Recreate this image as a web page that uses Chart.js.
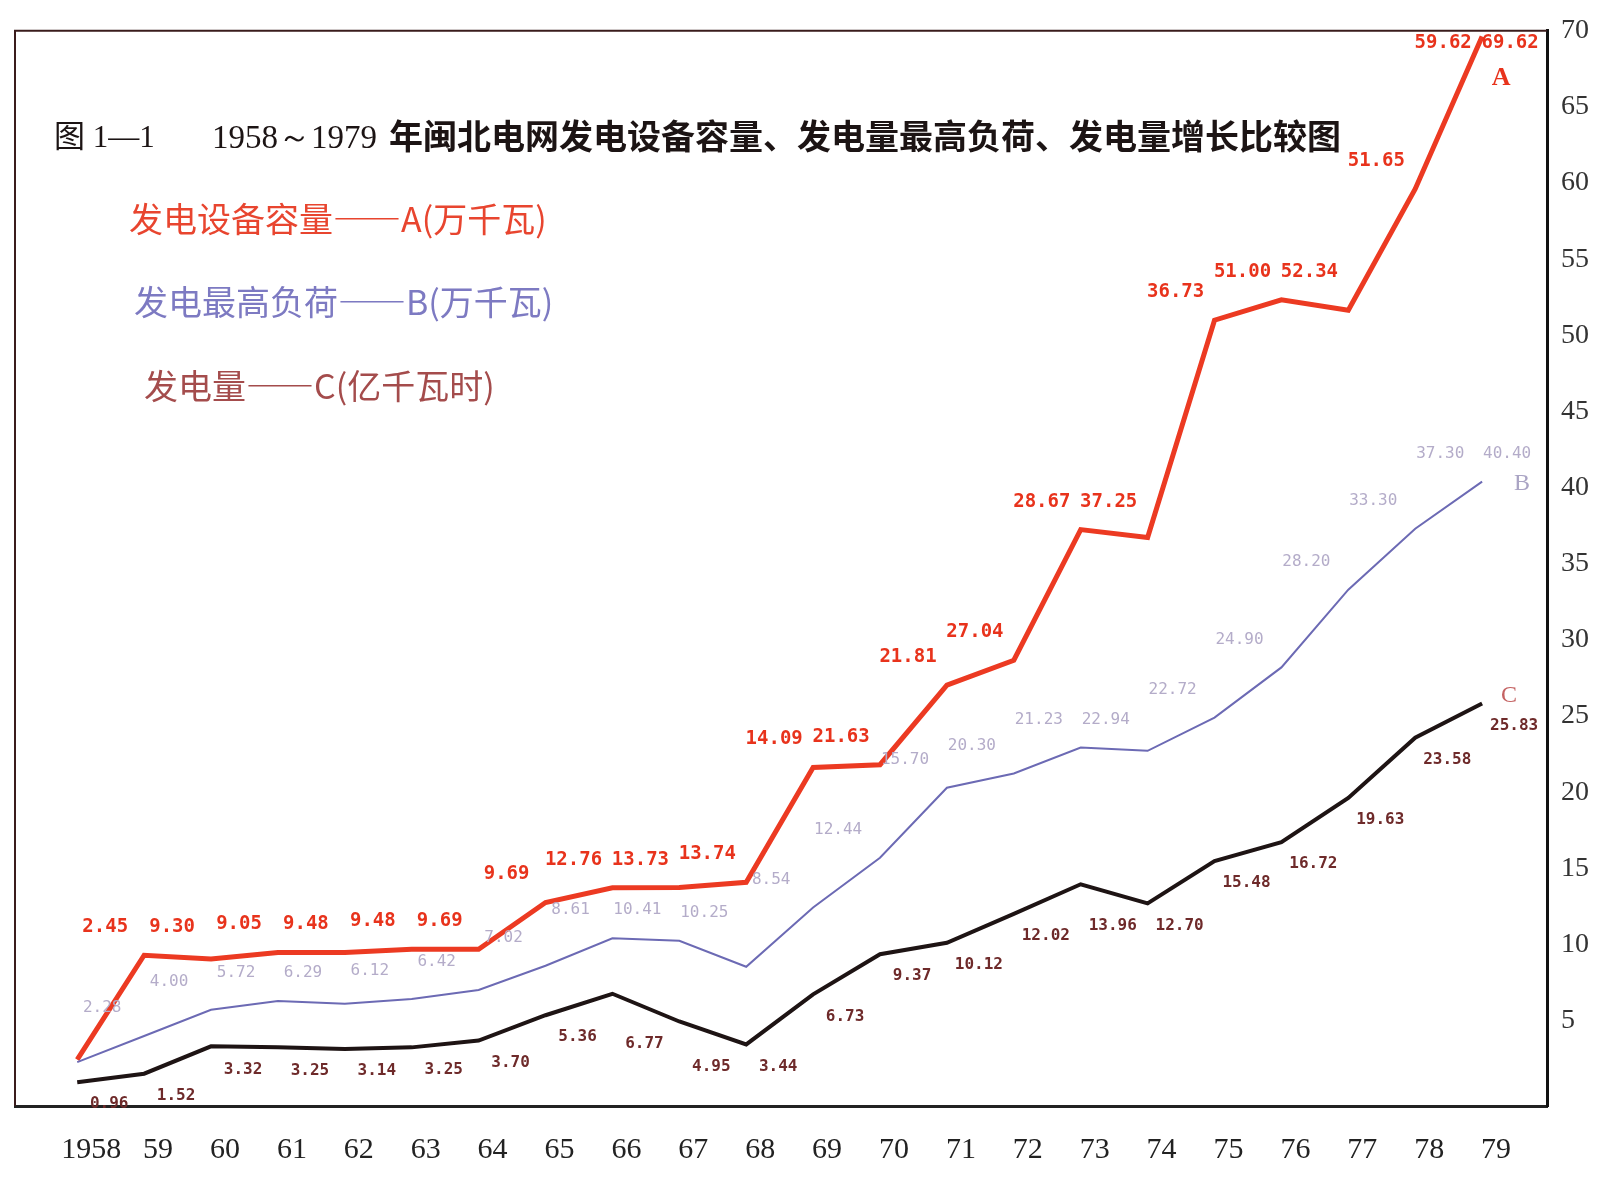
<!DOCTYPE html>
<html lang="zh">
<head>
<meta charset="utf-8">
<title>闽北电网发电设备容量、发电量最高负荷、发电量增长比较图</title>
<script src="https://cdn.jsdelivr.net/npm/chart.js@4.4.1/dist/chart.umd.min.js"></script>
<style>
  html, body { margin: 0; padding: 0; background: #fff; }
  #chart { display: block; }
</style>
</head>
<body>
<canvas id="chart" width="1614" height="1178"></canvas>
<script>
// data
const years = [1958, 1959, 1960, 1961, 1962, 1963, 1964, 1965, 1966, 1967, 1968,
  1969, 1970, 1971, 1972, 1973, 1974, 1975, 1976, 1977, 1978, 1979];
const xLabels = ['1958', '59', '60', '61', '62', '63', '64', '65', '66', '67', '68',
  '69', '70', '71', '72', '73', '74', '75', '76', '77', '78', '79'];
// A 发电设备容量 (万千瓦)
const capacityA = [2.45, 9.30, 9.05, 9.48, 9.48, 9.69, 9.69, 12.76, 13.73, 13.74, 14.09,
  21.63, 21.81, 27.04, 28.67, 37.25, 36.73, 51.00, 52.34, 51.65, 59.62, 69.62];
// B 发电最高负荷 (万千瓦)
const peakLoadB = [2.28, 4.00, 5.72, 6.29, 6.12, 6.42, 7.02, 8.61, 10.41, 10.25, 8.54,
  12.44, 15.70, 20.30, 21.23, 22.94, 22.72, 24.90, 28.20, 33.30, 37.30, 40.40];
// C 发电量 (亿千瓦时)
const outputC = [0.96, 1.52, 3.32, 3.25, 3.14, 3.25, 3.70, 5.36, 6.77, 4.95, 3.44,
  6.73, 9.37, 10.12, 12.02, 13.96, 12.70, 15.48, 16.72, 19.63, 23.58, 25.83];
const yTicks = [5, 10, 15, 20, 25, 30, 35, 40, 45, 50, 55, 60, 65, 70];

const titlePrefix = ['图 1—1', '1958～1979'];
const titleMain = '年闽北电网发电设备容量、发电量最高负荷、发电量增长比较图';
const legendRows = [
  { text: '发电设备容量——A(万千瓦)', color: '#e8452f' },
  { text: '发电最高负荷——B(万千瓦)', color: '#7d7ac2' },
  { text: '发电量——C(亿千瓦时)', color: '#a44c4c' }
];

const toPoints = (vals) => years.map((yr, i) => ({ x: yr, y: vals[i] }));

// left + top edge of the frame (right and bottom are the axes)
const framePlugin = {
  id: 'frame',
  beforeDatasetsDraw(chart) {
    const { ctx, chartArea: a } = chart;
    ctx.save();
    ctx.strokeStyle = '#3a1c1c';
    ctx.lineWidth = 2;
    ctx.beginPath();
    ctx.moveTo(a.left, a.bottom);
    ctx.lineTo(a.left, a.top);
    ctx.lineTo(a.right, a.top);
    ctx.stroke();
    ctx.restore();
  }
};

// printed value next to every point, plus the A/B/C letter at the line end.
// like the print, a label sits level with the higher (or, below the line, lower)
// end of the segment that follows the point, so it stays clear of steep rises
const valueLabels = {
  id: 'valueLabels',
  afterDatasetsDraw(chart) {
    const { ctx, chartArea: a } = chart;
    chart.data.datasets.forEach((ds, i) => {
      const st = ds.valueLabel;
      const pts = chart.getDatasetMeta(i).data;
      ctx.save();
      ctx.textAlign = 'center';
      ctx.textBaseline = 'middle';
      ctx.font = st.font;
      ctx.fillStyle = st.color;
      pts.forEach((p, j) => {
        const next = pts[j + 1] || p;
        const ref = st.dy < 0 ? Math.min(p.y, next.y) : Math.max(p.y, next.y);
        const y = Math.max(ref + st.dy, a.top + 12);
        ctx.fillText(ds.data[j].y.toFixed(2), p.x + st.dx, y);
      });
      const last = pts[pts.length - 1];
      ctx.font = st.letterFont;
      ctx.fillStyle = st.letterColor;
      ctx.fillText(ds.label, last.x + st.ldx, last.y + st.ldy);
      ctx.restore();
    });
  }
};

const captionPlugin = {
  id: 'caption',
  afterDraw(chart) {
    const ctx = chart.ctx;
    ctx.save();
    ctx.textBaseline = 'middle';
    ctx.fillStyle = '#1c1414';
    ctx.font = '31px "Liberation Serif", "Noto Sans CJK SC"';
    ctx.fillText(titlePrefix[0], 54, 139);
    ctx.font = '33px "Liberation Serif"';
    ctx.fillText(titlePrefix[1], 212, 139);
    ctx.font = 'bold 34px "Noto Sans CJK SC"';
    ctx.fillText(titleMain, 389, 136);
    ctx.font = '34px "Noto Sans CJK SC"';
    const rowX = [129, 134, 144];
    const rowY = [219, 302, 386];
    legendRows.forEach((r, i) => {
      ctx.fillStyle = r.color;
      ctx.fillText(r.text, rowX[i], rowY[i]);
    });
    ctx.restore();
  }
};

new Chart(document.getElementById('chart'), {
  type: 'line',
  data: {
    datasets: [
      {
        label: 'B',
        data: toPoints(peakLoadB),
        borderColor: '#6c6ab4',
        borderWidth: 2,
        pointRadius: 0,
        tension: 0,
        valueLabel: { font: '16px "DejaVu Sans Mono"', color: '#b4acc9', dx: 25, dy: -28,
          letterFont: '24px "Liberation Serif"', letterColor: '#aaa4c4', ldx: 40, ldy: 2 }
      },
      {
        label: 'C',
        data: toPoints(outputC),
        borderColor: '#1e1414',
        borderWidth: 4,
        pointRadius: 0,
        tension: 0,
        valueLabel: { font: 'bold 16px "DejaVu Sans Mono"', color: '#6e2a2a', dx: 32, dy: 22,
          letterFont: '24px "Liberation Serif"', letterColor: '#c46262', ldx: 27, ldy: -8 }
      },
      {
        label: 'A',
        data: toPoints(capacityA),
        borderColor: '#ec3a22',
        borderWidth: 5,
        pointRadius: 0,
        tension: 0,
        valueLabel: { font: 'bold 19px "DejaVu Sans Mono"', color: '#e8331c', dx: 28, dy: -28,
          letterFont: 'bold 26px "Liberation Serif"', letterColor: '#e8331c', ldx: 19, ldy: 42 }
      }
    ]
  },
  options: {
    responsive: false,
    animation: false,
    devicePixelRatio: 1,
    layout: { padding: { left: 15, top: 24, right: 0, bottom: 0 } },
    plugins: {
      legend: { display: false },
      tooltip: { enabled: false }
    },
    scales: {
      x: {
        type: 'linear',
        min: 1957.07,
        max: 1979.97,
        afterBuildTicks(axis) { axis.ticks = years.map(v => ({ value: v })); },
        afterFit(axis) { axis.height = 72; },
        grid: { display: false, drawTicks: false },
        border: { color: '#222', width: 3 },
        ticks: {
          autoSkip: false,
          maxRotation: 0,
          padding: 26,
          labelOffset: 14,
          color: '#222',
          font: { family: 'Liberation Serif', size: 30 },
          callback: (v) => xLabels[years.indexOf(v)]
        }
      },
      y: {
        position: 'right',
        min: -0.6,
        max: 70,
        afterBuildTicks(axis) { axis.ticks = yTicks.map(v => ({ value: v })); },
        afterFit(axis) { axis.width = 67; },
        grid: { display: false, drawTicks: false },
        border: { color: '#111', width: 3 },
        ticks: {
          autoSkip: false,
          padding: 14,
          color: '#333',
          font: { family: 'Liberation Serif', size: 28 }
        }
      }
    }
  },
  plugins: [framePlugin, valueLabels, captionPlugin]
});
</script>
</body>
</html>
